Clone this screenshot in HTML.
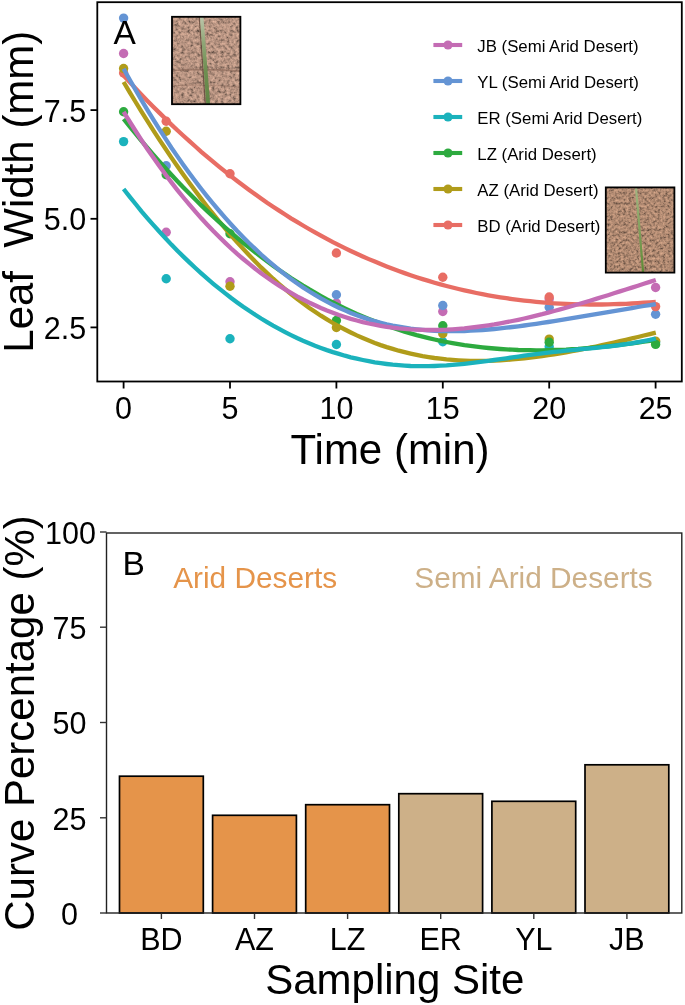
<!DOCTYPE html>
<html><head><meta charset="utf-8"><style>
html,body{margin:0;padding:0;background:#fff;width:685px;height:1005px;overflow:hidden;}
svg{display:block;will-change:transform;}
text{font-family:"Liberation Sans",sans-serif;fill:#000;}
</style></head><body>
<svg width="685" height="1005" viewBox="0 0 685 1005">
<defs>
<filter id="sand" x="0" y="0" width="100%" height="100%" color-interpolation-filters="sRGB">
<feTurbulence type="fractalNoise" baseFrequency="0.33" numOctaves="3" seed="7" result="n"/>
<feColorMatrix in="n" type="matrix" values="1 0 0 0 0  1 0 0 0 0  1 0 0 0 0  0 0 0 0 1" result="g"/>
<feComponentTransfer in="g"><feFuncR type="table" tableValues="0.261 0.410 0.596 0.723 0.805 0.879 0.984"/><feFuncG type="table" tableValues="0.210 0.330 0.480 0.582 0.648 0.708 0.792"/><feFuncB type="table" tableValues="0.184 0.289 0.420 0.510 0.568 0.620 0.694"/></feComponentTransfer>
</filter>
<filter id="sand2" x="0" y="0" width="100%" height="100%" color-interpolation-filters="sRGB">
<feTurbulence type="fractalNoise" baseFrequency="0.38" numOctaves="3" seed="11" result="n"/>
<feColorMatrix in="n" type="matrix" values="1 0 0 0 0  1 0 0 0 0  1 0 0 0 0  0 0 0 0 1" result="g"/>
<feComponentTransfer in="g"><feFuncR type="table" tableValues="0.250 0.393 0.571 0.692 0.771 0.842 0.942"/><feFuncG type="table" tableValues="0.195 0.306 0.445 0.540 0.601 0.657 0.735"/><feFuncB type="table" tableValues="0.161 0.252 0.367 0.445 0.496 0.541 0.606"/></feComponentTransfer>
</filter>
<linearGradient id="blade1" x1="0" y1="0" x2="0" y2="1">
<stop offset="0" stop-color="#bcc6aa"/><stop offset="0.3" stop-color="#8fa676"/><stop offset="0.6" stop-color="#6f8f52"/><stop offset="1" stop-color="#5f8444"/>
</linearGradient>
<linearGradient id="blade2" x1="0" y1="0" x2="0" y2="1">
<stop offset="0" stop-color="#a4b684"/><stop offset="1" stop-color="#5c8a34"/>
</linearGradient>
</defs>
<rect width="685" height="1005" fill="#fff"/>
<!-- Panel A -->
<g>
<rect x="172" y="16.8" width="68.4" height="87.4" fill="#b48c72" filter="url(#sand)"/>
<path d="M173,70.5 Q200,68.5 240,71" stroke="#6a4c3e" stroke-width="1.6" fill="none" opacity="0.45"/><path d="M173,86 Q195,84 240,87" stroke="#6a4c3e" stroke-width="1.2" fill="none" opacity="0.3"/><path d="M199.3,17 L205.3,104" stroke="#5a4034" stroke-width="1.3" opacity="0.75"/><path d="M199.9,17 L203.5,17 L210.1,104 L206.2,104 Z" fill="url(#blade1)"/>
<rect x="172" y="16.8" width="68.4" height="87.4" fill="none" stroke="#000" stroke-width="1.8"/>
<rect x="605.8" y="187.4" width="68.6" height="85.2" fill="#b48c72" filter="url(#sand2)"/>
<path d="M634.9,187.5 L637.1,187.5 L644.2,272.5 L642,272.5 Z" fill="url(#blade2)"/>
<rect x="605.8" y="187.4" width="68.6" height="85.2" fill="none" stroke="#000" stroke-width="1.8"/>
<circle cx="123.6" cy="53.5" r="4.7" fill="#C46CB4"/><circle cx="166.2" cy="232.3" r="4.7" fill="#C46CB4"/><circle cx="230.0" cy="281.8" r="4.7" fill="#C46CB4"/><circle cx="336.4" cy="303.1" r="4.7" fill="#C46CB4"/><circle cx="442.8" cy="311.5" r="4.7" fill="#C46CB4"/><circle cx="549.2" cy="299" r="4.7" fill="#C46CB4"/><circle cx="655.6" cy="287.5" r="4.7" fill="#C46CB4"/><circle cx="123.6" cy="18.1" r="4.7" fill="#6494D4"/><circle cx="166.2" cy="165.8" r="4.7" fill="#6494D4"/><circle cx="336.4" cy="294.8" r="4.7" fill="#6494D4"/><circle cx="442.8" cy="305.5" r="4.7" fill="#6494D4"/><circle cx="549.2" cy="307.3" r="4.7" fill="#6494D4"/><circle cx="655.6" cy="314.3" r="4.7" fill="#6494D4"/><circle cx="123.6" cy="141.6" r="4.7" fill="#1BB2BC"/><circle cx="166.2" cy="278.7" r="4.7" fill="#1BB2BC"/><circle cx="230.0" cy="338.7" r="4.7" fill="#1BB2BC"/><circle cx="336.4" cy="344.5" r="4.7" fill="#1BB2BC"/><circle cx="442.8" cy="341.8" r="4.7" fill="#1BB2BC"/><circle cx="549.2" cy="346.7" r="4.7" fill="#1BB2BC"/><circle cx="655.6" cy="342" r="4.7" fill="#1BB2BC"/><circle cx="123.6" cy="73" r="4.7" fill="#E86D64"/><circle cx="166.2" cy="121.2" r="4.7" fill="#E86D64"/><circle cx="230.0" cy="173.8" r="4.7" fill="#E86D64"/><circle cx="336.4" cy="253" r="4.7" fill="#E86D64"/><circle cx="442.8" cy="277.2" r="4.7" fill="#E86D64"/><circle cx="549.2" cy="297" r="4.7" fill="#E86D64"/><circle cx="655.6" cy="306.6" r="4.7" fill="#E86D64"/><circle cx="123.6" cy="68.5" r="4.7" fill="#B09C1A"/><circle cx="166.2" cy="131.2" r="4.7" fill="#B09C1A"/><circle cx="230.0" cy="286.3" r="4.7" fill="#B09C1A"/><circle cx="336.4" cy="327.5" r="4.7" fill="#B09C1A"/><circle cx="442.8" cy="333.8" r="4.7" fill="#B09C1A"/><circle cx="549.2" cy="339.1" r="4.7" fill="#B09C1A"/><circle cx="655.6" cy="341.1" r="4.7" fill="#B09C1A"/><circle cx="123.6" cy="111.7" r="4.7" fill="#2DAA3F"/><circle cx="166.2" cy="174.7" r="4.7" fill="#2DAA3F"/><circle cx="230.0" cy="233.7" r="4.7" fill="#2DAA3F"/><circle cx="336.4" cy="320.5" r="4.7" fill="#2DAA3F"/><circle cx="442.8" cy="325.8" r="4.7" fill="#2DAA3F"/><circle cx="549.2" cy="342.2" r="4.7" fill="#2DAA3F"/><circle cx="655.6" cy="344.4" r="4.7" fill="#2DAA3F"/>
<path d="M123.6,75.5 L129.6,82.0 L135.6,88.4 L141.5,94.7 L147.5,100.9 L153.5,107.0 L159.5,112.9 L165.5,118.8 L171.4,124.6 L177.4,130.2 L183.4,135.8 L189.4,141.2 L195.4,146.5 L201.3,151.8 L207.3,156.9 L213.3,161.9 L219.3,166.8 L225.3,171.7 L231.2,176.4 L237.2,181.0 L243.2,185.5 L249.2,189.9 L255.2,194.3 L261.1,198.5 L267.1,202.7 L273.1,206.7 L279.1,210.6 L285.1,214.5 L291.0,218.3 L297.0,221.9 L303.0,225.5 L309.0,229.0 L315.0,232.4 L320.9,235.7 L326.9,238.9 L332.9,242.1 L338.9,245.1 L344.9,248.1 L350.8,251.0 L356.8,253.8 L362.8,256.5 L368.8,259.1 L374.8,261.6 L380.7,264.1 L386.7,266.5 L392.7,268.8 L398.7,271.0 L404.6,273.1 L410.6,275.2 L416.6,277.2 L422.6,279.1 L428.6,280.9 L434.5,282.7 L440.5,284.4 L446.5,286.0 L452.5,287.5 L458.5,289.0 L464.4,290.4 L470.4,291.7 L476.4,293.0 L482.4,294.2 L488.4,295.3 L494.3,296.3 L500.3,297.3 L506.3,298.2 L512.3,299.1 L518.3,299.9 L524.2,300.6 L530.2,301.2 L536.2,301.8 L542.2,302.4 L548.2,302.9 L554.1,303.3 L560.1,303.6 L566.1,303.9 L572.1,304.1 L578.1,304.3 L584.0,304.4 L590.0,304.5 L596.0,304.5 L602.0,304.5 L608.0,304.4 L613.9,304.2 L619.9,304.0 L625.9,303.8 L631.9,303.5 L637.9,303.1 L643.8,302.7 L649.8,302.3 L655.8,301.8" fill="none" stroke="#E86D64" stroke-width="4.3"/><path d="M123.6,82.0 L129.6,92.1 L135.6,102.0 L141.5,111.7 L147.5,121.2 L153.5,130.6 L159.5,139.8 L165.5,148.8 L171.4,157.6 L177.4,166.2 L183.4,174.7 L189.4,183.0 L195.4,191.0 L201.3,198.9 L207.3,206.7 L213.3,214.2 L219.3,221.5 L225.3,228.6 L231.2,235.6 L237.2,242.3 L243.2,248.9 L249.2,255.3 L255.2,261.4 L261.1,267.4 L267.1,273.1 L273.1,278.7 L279.1,284.0 L285.1,289.2 L291.0,294.1 L297.0,298.8 L303.0,303.3 L309.0,307.7 L315.0,311.8 L320.9,315.7 L326.9,319.4 L332.9,323.0 L338.9,326.4 L344.9,329.5 L350.8,332.5 L356.8,335.4 L362.8,338.0 L368.8,340.5 L374.8,342.9 L380.7,345.1 L386.7,347.1 L392.7,348.9 L398.7,350.7 L404.6,352.2 L410.6,353.6 L416.6,354.9 L422.6,356.1 L428.6,357.1 L434.5,358.0 L440.5,358.7 L446.5,359.4 L452.5,359.9 L458.5,360.3 L464.4,360.6 L470.4,360.8 L476.4,360.9 L482.4,360.9 L488.4,360.8 L494.3,360.6 L500.3,360.3 L506.3,359.9 L512.3,359.4 L518.3,358.9 L524.2,358.3 L530.2,357.6 L536.2,356.9 L542.2,356.1 L548.2,355.2 L554.1,354.3 L560.1,353.3 L566.1,352.3 L572.1,351.2 L578.1,350.1 L584.0,348.9 L590.0,347.7 L596.0,346.5 L602.0,345.2 L608.0,343.9 L613.9,342.6 L619.9,341.2 L625.9,339.8 L631.9,338.4 L637.9,337.0 L643.8,335.5 L649.8,334.1 L655.8,332.6" fill="none" stroke="#B09C1A" stroke-width="4.3"/><path d="M123.6,119.0 L129.6,126.4 L135.6,133.7 L141.5,140.9 L147.5,148.0 L153.5,154.9 L159.5,161.6 L165.5,168.3 L171.4,174.8 L177.4,181.2 L183.4,187.4 L189.4,193.5 L195.4,199.5 L201.3,205.4 L207.3,211.1 L213.3,216.7 L219.3,222.2 L225.3,227.5 L231.2,232.7 L237.2,237.8 L243.2,242.8 L249.2,247.6 L255.2,252.3 L261.1,256.9 L267.1,261.4 L273.1,265.7 L279.1,269.9 L285.1,274.0 L291.0,278.0 L297.0,281.8 L303.0,285.6 L309.0,289.2 L315.0,292.6 L320.9,296.0 L326.9,299.3 L332.9,302.4 L338.9,305.4 L344.9,308.4 L350.8,311.2 L356.8,313.9 L362.8,316.4 L368.8,318.9 L374.8,321.3 L380.7,323.6 L386.7,325.7 L392.7,327.8 L398.7,329.8 L404.6,331.6 L410.6,333.4 L416.6,335.1 L422.6,336.6 L428.6,338.1 L434.5,339.5 L440.5,340.8 L446.5,342.0 L452.5,343.1 L458.5,344.1 L464.4,345.1 L470.4,345.9 L476.4,346.7 L482.4,347.4 L488.4,348.0 L494.3,348.5 L500.3,349.0 L506.3,349.4 L512.3,349.7 L518.3,350.0 L524.2,350.1 L530.2,350.2 L536.2,350.3 L542.2,350.3 L548.2,350.2 L554.1,350.0 L560.1,349.8 L566.1,349.6 L572.1,349.2 L578.1,348.9 L584.0,348.4 L590.0,348.0 L596.0,347.4 L602.0,346.9 L608.0,346.3 L613.9,345.6 L619.9,344.9 L625.9,344.2 L631.9,343.4 L637.9,342.5 L643.8,341.7 L649.8,340.8 L655.8,339.9" fill="none" stroke="#2DAA3F" stroke-width="4.3"/><path d="M123.6,189.0 L129.6,196.6 L135.6,204.0 L141.5,211.3 L147.5,218.3 L153.5,225.1 L159.5,231.8 L165.5,238.3 L171.4,244.6 L177.4,250.7 L183.4,256.6 L189.4,262.4 L195.4,268.0 L201.3,273.4 L207.3,278.7 L213.3,283.8 L219.3,288.7 L225.3,293.4 L231.2,298.0 L237.2,302.4 L243.2,306.7 L249.2,310.8 L255.2,314.7 L261.1,318.5 L267.1,322.1 L273.1,325.6 L279.1,328.9 L285.1,332.1 L291.0,335.1 L297.0,338.0 L303.0,340.7 L309.0,343.2 L315.0,345.7 L320.9,347.9 L326.9,350.1 L332.9,352.1 L338.9,353.9 L344.9,355.7 L350.8,357.3 L356.8,358.7 L362.8,360.0 L368.8,361.2 L374.8,362.3 L380.7,363.2 L386.7,364.0 L392.7,364.7 L398.7,365.2 L404.6,365.6 L410.6,366.0 L416.6,366.1 L422.6,366.2 L428.6,366.2 L434.5,366.0 L440.5,365.7 L446.5,365.4 L452.5,364.9 L458.5,364.4 L464.4,363.8 L470.4,363.1 L476.4,362.4 L482.4,361.7 L488.4,360.9 L494.3,360.0 L500.3,359.2 L506.3,358.3 L512.3,357.4 L518.3,356.6 L524.2,355.7 L530.2,354.9 L536.2,354.1 L542.2,353.3 L548.2,352.6 L554.1,351.9 L560.1,351.3 L566.1,350.7 L572.1,350.1 L578.1,349.5 L584.0,348.9 L590.0,348.4 L596.0,347.8 L602.0,347.2 L608.0,346.5 L613.9,345.8 L619.9,345.0 L625.9,344.2 L631.9,343.3 L637.9,342.2 L643.8,341.1 L649.8,339.9 L655.8,338.5" fill="none" stroke="#1BB2BC" stroke-width="4.3"/><path d="M123.6,68.7 L129.6,79.5 L135.6,90.0 L141.5,100.2 L147.5,110.2 L153.5,119.9 L159.5,129.4 L165.5,138.7 L171.4,147.7 L177.4,156.4 L183.4,164.9 L189.4,173.2 L195.4,181.2 L201.3,189.0 L207.3,196.6 L213.3,203.9 L219.3,211.0 L225.3,217.9 L231.2,224.5 L237.2,231.0 L243.2,237.2 L249.2,243.2 L255.2,248.9 L261.1,254.5 L267.1,259.8 L273.1,264.9 L279.1,269.8 L285.1,274.5 L291.0,279.0 L297.0,283.3 L303.0,287.4 L309.0,291.3 L315.0,294.9 L320.9,298.4 L326.9,301.7 L332.9,304.8 L338.9,307.7 L344.9,310.4 L350.8,312.9 L356.8,315.3 L362.8,317.4 L368.8,319.4 L374.8,321.2 L380.7,322.8 L386.7,324.3 L392.7,325.6 L398.7,326.7 L404.6,327.7 L410.6,328.6 L416.6,329.3 L422.6,329.9 L428.6,330.4 L434.5,330.8 L440.5,331.0 L446.5,331.2 L452.5,331.2 L458.5,331.1 L464.4,331.0 L470.4,330.7 L476.4,330.4 L482.4,330.0 L488.4,329.5 L494.3,329.0 L500.3,328.4 L506.3,327.7 L512.3,327.0 L518.3,326.3 L524.2,325.5 L530.2,324.7 L536.2,323.8 L542.2,322.9 L548.2,322.0 L554.1,321.1 L560.1,320.2 L566.1,319.2 L572.1,318.2 L578.1,317.2 L584.0,316.2 L590.0,315.2 L596.0,314.2 L602.0,313.2 L608.0,312.2 L613.9,311.1 L619.9,310.1 L625.9,309.1 L631.9,308.1 L637.9,307.0 L643.8,306.0 L649.8,305.1 L655.8,304.1" fill="none" stroke="#6494D4" stroke-width="4.3"/><path d="M123.6,111.8 L129.6,121.5 L135.6,131.0 L141.5,140.2 L147.5,149.2 L153.5,157.8 L159.5,166.3 L165.5,174.5 L171.4,182.4 L177.4,190.1 L183.4,197.5 L189.4,204.7 L195.4,211.6 L201.3,218.3 L207.3,224.8 L213.3,231.1 L219.3,237.1 L225.3,242.9 L231.2,248.5 L237.2,253.9 L243.2,259.0 L249.2,263.9 L255.2,268.7 L261.1,273.2 L267.1,277.5 L273.1,281.7 L279.1,285.6 L285.1,289.4 L291.0,292.9 L297.0,296.3 L303.0,299.5 L309.0,302.5 L315.0,305.3 L320.9,308.0 L326.9,310.5 L332.9,312.8 L338.9,315.0 L344.9,317.0 L350.8,318.9 L356.8,320.5 L362.8,322.1 L368.8,323.5 L374.8,324.7 L380.7,325.8 L386.7,326.8 L392.7,327.7 L398.7,328.4 L404.6,328.9 L410.6,329.4 L416.6,329.7 L422.6,329.9 L428.6,330.0 L434.5,330.0 L440.5,329.9 L446.5,329.7 L452.5,329.3 L458.5,328.9 L464.4,328.4 L470.4,327.7 L476.4,327.0 L482.4,326.2 L488.4,325.3 L494.3,324.4 L500.3,323.3 L506.3,322.2 L512.3,321.0 L518.3,319.8 L524.2,318.5 L530.2,317.1 L536.2,315.6 L542.2,314.2 L548.2,312.6 L554.1,311.0 L560.1,309.4 L566.1,307.7 L572.1,306.0 L578.1,304.3 L584.0,302.5 L590.0,300.7 L596.0,298.9 L602.0,297.0 L608.0,295.2 L613.9,293.3 L619.9,291.4 L625.9,289.5 L631.9,287.6 L637.9,285.7 L643.8,283.8 L649.8,281.9 L655.8,280.0" fill="none" stroke="#C46CB4" stroke-width="4.3"/>
<line x1="433.4" y1="45.0" x2="462.2" y2="45.0" stroke="#C46CB4" stroke-width="4.1"/><circle cx="448" cy="45.0" r="4.6" fill="#C46CB4"/><text x="477.3" y="51.7" font-size="16.8" fill="#1a1a1a">JB (Semi Arid Desert)</text><line x1="433.4" y1="81.0" x2="462.2" y2="81.0" stroke="#6494D4" stroke-width="4.1"/><circle cx="448" cy="81.0" r="4.6" fill="#6494D4"/><text x="477.3" y="87.7" font-size="16.8" fill="#1a1a1a">YL (Semi Arid Desert)</text><line x1="433.4" y1="117.0" x2="462.2" y2="117.0" stroke="#1BB2BC" stroke-width="4.1"/><circle cx="448" cy="117.0" r="4.6" fill="#1BB2BC"/><text x="477.3" y="123.7" font-size="16.8" fill="#1a1a1a">ER (Semi Arid Desert)</text><line x1="433.4" y1="153.0" x2="462.2" y2="153.0" stroke="#2DAA3F" stroke-width="4.1"/><circle cx="448" cy="153.0" r="4.6" fill="#2DAA3F"/><text x="477.3" y="159.7" font-size="16.8" fill="#1a1a1a">LZ (Arid Desert)</text><line x1="433.4" y1="189.0" x2="462.2" y2="189.0" stroke="#B09C1A" stroke-width="4.1"/><circle cx="448" cy="189.0" r="4.6" fill="#B09C1A"/><text x="477.3" y="195.7" font-size="16.8" fill="#1a1a1a">AZ (Arid Desert)</text><line x1="433.4" y1="225.0" x2="462.2" y2="225.0" stroke="#E86D64" stroke-width="4.1"/><circle cx="448" cy="225.0" r="4.6" fill="#E86D64"/><text x="477.3" y="231.7" font-size="16.8" fill="#1a1a1a">BD (Arid Desert)</text>
<text x="113.6" y="44.2" font-size="33.5">A</text>
<rect x="97.3" y="2.2" width="584.5" height="379.3" fill="none" stroke="#000" stroke-width="1.8"/>
<line x1="123.6" y1="381.5" x2="123.6" y2="388.5" stroke="#000" stroke-width="1.8"/><text x="123.6" y="418.6" font-size="30.5" text-anchor="middle">0</text><line x1="230.0" y1="381.5" x2="230.0" y2="388.5" stroke="#000" stroke-width="1.8"/><text x="230.0" y="418.6" font-size="30.5" text-anchor="middle">5</text><line x1="336.4" y1="381.5" x2="336.4" y2="388.5" stroke="#000" stroke-width="1.8"/><text x="336.4" y="418.6" font-size="30.5" text-anchor="middle">10</text><line x1="442.8" y1="381.5" x2="442.8" y2="388.5" stroke="#000" stroke-width="1.8"/><text x="442.8" y="418.6" font-size="30.5" text-anchor="middle">15</text><line x1="549.2" y1="381.5" x2="549.2" y2="388.5" stroke="#000" stroke-width="1.8"/><text x="549.2" y="418.6" font-size="30.5" text-anchor="middle">20</text><line x1="655.6" y1="381.5" x2="655.6" y2="388.5" stroke="#000" stroke-width="1.8"/><text x="655.6" y="418.6" font-size="30.5" text-anchor="middle">25</text><line x1="90.5" y1="327.4" x2="97" y2="327.4" stroke="#000" stroke-width="1.8"/><text x="86.2" y="338.8" font-size="30.5" text-anchor="end">2.5</text><line x1="90.5" y1="218.8" x2="97" y2="218.8" stroke="#000" stroke-width="1.8"/><text x="86.2" y="230.2" font-size="30.5" text-anchor="end">5.0</text><line x1="90.5" y1="110.1" x2="97" y2="110.1" stroke="#000" stroke-width="1.8"/><text x="86.2" y="121.5" font-size="30.5" text-anchor="end">7.5</text>
<text x="390" y="463.6" font-size="42" text-anchor="middle">Time (min)</text>
<text transform="translate(33.2,191.7) rotate(-90)" font-size="42" text-anchor="middle" xml:space="preserve">Leaf  Width (mm)</text>
</g>
<!-- Panel B -->
<g>
<rect x="119.5" y="776.2" width="83.8" height="136.8" fill="#E5944A" stroke="#000" stroke-width="1.7"/><line x1="161.4" y1="913" x2="161.4" y2="919" stroke="#333" stroke-width="1.4"/><text x="161.4" y="949.5" font-size="30.5" text-anchor="middle">BD</text><rect x="212.6" y="815.3" width="83.8" height="97.7" fill="#E5944A" stroke="#000" stroke-width="1.7"/><line x1="254.5" y1="913" x2="254.5" y2="919" stroke="#333" stroke-width="1.4"/><text x="254.5" y="949.5" font-size="30.5" text-anchor="middle">AZ</text><rect x="305.7" y="804.7" width="83.8" height="108.3" fill="#E5944A" stroke="#000" stroke-width="1.7"/><line x1="347.6" y1="913" x2="347.6" y2="919" stroke="#333" stroke-width="1.4"/><text x="347.6" y="949.5" font-size="30.5" text-anchor="middle">LZ</text><rect x="398.8" y="793.7" width="83.8" height="119.3" fill="#CDB088" stroke="#000" stroke-width="1.7"/><line x1="440.7" y1="913" x2="440.7" y2="919" stroke="#333" stroke-width="1.4"/><text x="440.7" y="949.5" font-size="30.5" text-anchor="middle">ER</text><rect x="491.9" y="801.3" width="83.8" height="111.7" fill="#CDB088" stroke="#000" stroke-width="1.7"/><line x1="533.8" y1="913" x2="533.8" y2="919" stroke="#333" stroke-width="1.4"/><text x="533.8" y="949.5" font-size="30.5" text-anchor="middle">YL</text><rect x="585.0" y="764.8" width="83.8" height="148.2" fill="#CDB088" stroke="#000" stroke-width="1.7"/><line x1="626.9" y1="913" x2="626.9" y2="919" stroke="#333" stroke-width="1.4"/><text x="626.9" y="949.5" font-size="30.5" text-anchor="middle">JB</text>
<rect x="106.5" y="533" width="575.3" height="380" fill="none" stroke="#222" stroke-width="1.4"/>
<line x1="100" y1="913.0" x2="106.5" y2="913.0" stroke="#333" stroke-width="1.4"/><text x="69.5" y="924.8" font-size="30.5" text-anchor="middle">0</text><line x1="100" y1="817.8" x2="106.5" y2="817.8" stroke="#333" stroke-width="1.4"/><text x="69.5" y="829.5" font-size="30.5" text-anchor="middle">25</text><line x1="100" y1="722.5" x2="106.5" y2="722.5" stroke="#333" stroke-width="1.4"/><text x="69.5" y="734.3" font-size="30.5" text-anchor="middle">50</text><line x1="100" y1="627.2" x2="106.5" y2="627.2" stroke="#333" stroke-width="1.4"/><text x="69.5" y="639.0" font-size="30.5" text-anchor="middle">75</text><line x1="100" y1="532.0" x2="106.5" y2="532.0" stroke="#333" stroke-width="1.4"/><text x="70.5" y="543.8" font-size="30.5" text-anchor="middle">100</text>
<text x="122.5" y="575" font-size="33.5">B</text>
<text x="173.2" y="588.4" font-size="29.8" fill="#E5944A" style="fill:#E5944A">Arid Deserts</text>
<text x="414.3" y="588.4" font-size="29.8" style="fill:#CDB088">Semi Arid Deserts</text>
<text x="394.8" y="994" font-size="42" text-anchor="middle">Sampling Site</text>
<text transform="translate(33.5,723) rotate(-90)" font-size="42" text-anchor="middle">Curve Percentage (%)</text>
</g>
</svg>
</body></html>
